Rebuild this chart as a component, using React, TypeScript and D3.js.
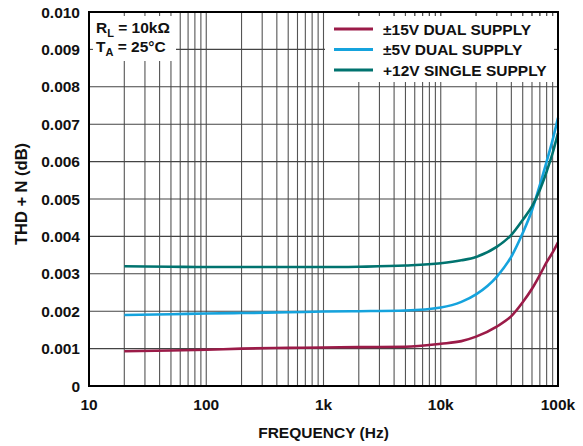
import React from "react";
import * as d3 from "d3";

const freqs = [20, 50, 100, 200, 500, 1000, 2000, 5000, 10000, 15000, 20000, 30000, 40000, 50000, 60000, 70000, 80000, 90000, 100000];
const dual15 = [0.00093, 0.00095, 0.00097, 0.001, 0.00102, 0.00103, 0.00104, 0.00105, 0.00113, 0.0012, 0.00132, 0.00159, 0.00187, 0.00224, 0.0026, 0.00297, 0.00331, 0.00357, 0.00384];
const dual5 = [0.0019, 0.00192, 0.00194, 0.00195, 0.00197, 0.00199, 0.002, 0.00202, 0.0021, 0.00225, 0.00245, 0.00292, 0.00346, 0.00409, 0.0047, 0.00537, 0.006, 0.00658, 0.00717];
const single12 = [0.0032, 0.00319, 0.00318, 0.00318, 0.00318, 0.00318, 0.00319, 0.00322, 0.00328, 0.00336, 0.00345, 0.00372, 0.00404, 0.00444, 0.0048, 0.00524, 0.00573, 0.00623, 0.00676];

const seriesNames = ["±15V DUAL SUPPLY", "±5V DUAL SUPPLY", "+12V SINGLE SUPPLY"];
const seriesColors = ["#9b1b48", "#15a3dd", "#00736f"];
const seriesData = [dual15, dual5, single12];

const yTicks = [0, 0.001, 0.002, 0.003, 0.004, 0.005, 0.006, 0.007, 0.008, 0.009, 0.01];
const yTickLabels = ["0", "0.001", "0.002", "0.003", "0.004", "0.005", "0.006", "0.007", "0.008", "0.009", "0.010"];
const xTicks = [10, 100, 1000, 10000, 100000];
const xTickLabels = ["10", "100", "1k", "10k", "100k"];

const W = 583, H = 446;
const L = 89, R = 558, T = 12, B = 386;
const FONT = "'Liberation Sans', Arial, sans-serif";

export default function App() {
  const x = d3.scaleLog().domain([10, 100000]).range([L, R]);
  const y = d3.scaleLinear().domain([0, 0.01]).range([B, T]);

  const minorX: number[] = [];
  for (let d = 10; d < 100000; d *= 10) {
    for (let m = 2; m <= 10; m++) minorX.push(d * m);
  }
  const vlines = minorX.filter((v) => v < 100000);

  const line = d3
    .line<[number, number]>()
    .x((d) => x(d[0]))
    .y((d) => y(d[1]))
    .curve(d3.curveMonotoneX);

  const annBox = { x0: L, x1: 176, y0: T, y1: 61 };
  const legBox = { x0: 325, x1: R, y0: 16, y1: 82 };

  return (
    <svg width={W} height={H} style={{ position: "absolute", left: 0, top: 0, background: "#fff" }} fontFamily={FONT}>
      <rect x={0} y={0} width={W} height={H} fill="#fff" />
      {vlines.map((v, i) => (
        <line key={"v" + i} x1={x(v)} x2={x(v)} y1={T} y2={B} stroke="#555" strokeWidth={1.1} />
      ))}
      {yTicks.slice(1, -1).map((v, i) => (
        <line key={"h" + i} x1={L} x2={R} y1={y(v)} y2={y(v)} stroke="#444" strokeWidth={1.1} />
      ))}
      <rect x={annBox.x0} y={annBox.y0} width={annBox.x1 - annBox.x0} height={annBox.y1 - annBox.y0} fill="#fff" />
      <rect x={legBox.x0} y={legBox.y0} width={legBox.x1 - legBox.x0} height={legBox.y1 - legBox.y0} fill="#fff" />
      {vlines.filter((v) => x(v) < annBox.x1).map((v, i) => (
        <line key={"sa" + i} x1={x(v)} x2={x(v)} y1={T} y2={T + 4} stroke="#555" strokeWidth={1.1} />
      ))}
      {vlines.filter((v) => x(v) > legBox.x0).map((v, i) => (
        <line key={"sl" + i} x1={x(v)} x2={x(v)} y1={T} y2={T + 4} stroke="#555" strokeWidth={1.1} />
      ))}
      {yTicks.slice(1, -1).filter((v) => y(v) < annBox.y1).map((v, i) => (
        <line key={"sh" + i} x1={L} x2={L + 4} y1={y(v)} y2={y(v)} stroke="#444" strokeWidth={1.1} />
      ))}
      {yTicks.slice(1, -1).filter((v) => y(v) < legBox.y1 && y(v) > legBox.y0).map((v, i) => (
        <line key={"sr" + i} x1={R - 4} x2={R} y1={y(v)} y2={y(v)} stroke="#444" strokeWidth={1.1} />
      ))}
      {seriesData.map((s, i) => (
        <path
          key={"c" + i}
          d={line(freqs.map((f, j) => [f, s[j]] as [number, number])) || ""}
          fill="none"
          stroke={seriesColors[i]}
          strokeWidth={2.6}
        />
      ))}
      <rect x={L} y={T} width={R - L} height={B - T} fill="none" stroke="#000" strokeWidth={2} />
      {yTicks.map((v, i) => (
        <text key={"yt" + i} x={80} y={y(v) + 5.5} textAnchor="end" fontSize={15.5} fontWeight="bold" fill="#111">
          {yTickLabels[i]}
        </text>
      ))}
      {xTicks.map((v, i) => (
        <text key={"xt" + i} x={x(v)} y={410} textAnchor="middle" fontSize={15.5} fontWeight="bold" fill="#111">
          {xTickLabels[i]}
        </text>
      ))}
      <text x={(L + R) / 2} y={438} textAnchor="middle" fontSize={15.5} fontWeight="bold" fill="#111">
        FREQUENCY (Hz)
      </text>
      <text
        transform={`translate(27, 194) rotate(-90)`}
        textAnchor="middle"
        fontSize={16.5}
        fontWeight="bold"
        fill="#111"
      >
        THD + N (dB)
      </text>
      <text x={96} y={33} fontSize={15.5} fontWeight="bold" fill="#111">
        R<tspan fontSize={11} dy={4}>L</tspan>
        <tspan dy={-4}> = 10kΩ</tspan>
      </text>
      <text x={96} y={52} fontSize={15.5} fontWeight="bold" fill="#111">
        T<tspan fontSize={11} dy={4}>A</tspan>
        <tspan dy={-4}> = 25°C</tspan>
      </text>
      {seriesNames.map((n, i) => (
        <g key={"lg" + i}>
          <line x1={334} x2={373} y1={29 + i * 20.5} y2={29 + i * 20.5} stroke={seriesColors[i]} strokeWidth={3} />
          <text x={383} y={34.5 + i * 20.5} fontSize={15.5} fontWeight="bold" fill="#111">
            {n}
          </text>
        </g>
      ))}
    </svg>
  );
}
